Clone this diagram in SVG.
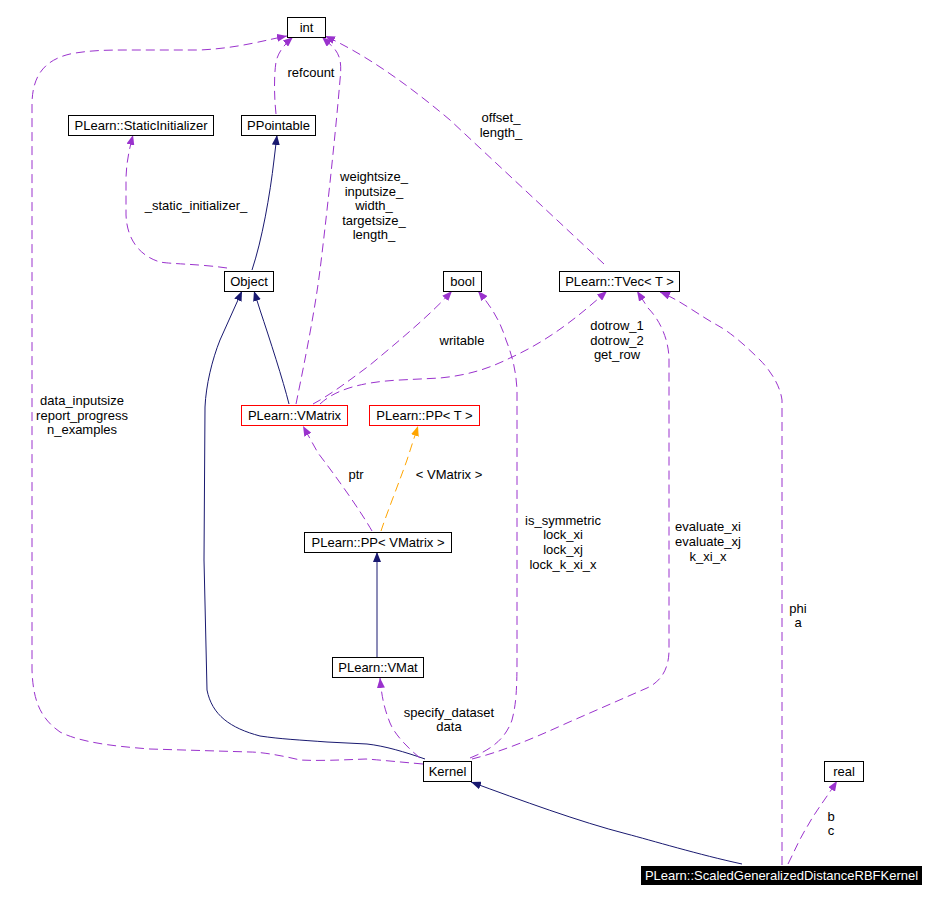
<svg xmlns="http://www.w3.org/2000/svg" width="928" height="902" viewBox="0 0 928 902">
<style>
text{font-family:"Liberation Sans",Arial,sans-serif;font-size:13px;fill:#000;text-anchor:middle}
.n rect{fill:#fff;stroke:#000;stroke-width:1}
.n rect.red{stroke:#ff0000}
.e path{fill:none;stroke-width:1}
.u{stroke:#9a32cd;stroke-dasharray:9,5}
.t{stroke:#ffa500;stroke-dasharray:9,5}
.i{stroke:#191970}
</style>
<defs>
<marker id="ap" viewBox="0 0 10 8" refX="10" refY="4" markerWidth="10" markerHeight="8" markerUnits="userSpaceOnUse" orient="auto"><path d="M0,0 L10,4 L0,8 z" fill="#9a32cd"/></marker>
<marker id="ao" viewBox="0 0 10 8" refX="10" refY="4" markerWidth="10" markerHeight="8" markerUnits="userSpaceOnUse" orient="auto"><path d="M0,0 L10,4 L0,8 z" fill="#ffa500"/></marker>
<marker id="an" viewBox="0 0 10 8" refX="10" refY="4" markerWidth="10" markerHeight="8" markerUnits="userSpaceOnUse" orient="auto"><path d="M0,0 L10,4 L0,8 z" fill="#191970"/></marker>
</defs>
<rect width="928" height="902" fill="#fff"/>
<g id="edges" class="e">
<path class="u" marker-end="url(#ap)" d="M423,764 C400,762 380,760 366,759 C340,760 320,761 300,760 C280,755 260,752 250,752 L150,749 C110,746 80,742 60,732 C40,718 33,700 32,670 L32,105 C32,75 45,60 70,54 C90,50 110,50 130,50 L200,50 C240,48 265,40 287,36"/>
<path class="u" marker-end="url(#ap)" d="M227,268 C200,264 170,264 160,262 C140,256 127,240 126,215 L126,180 C126,165 129,150 133,135"/>
<path class="u" marker-end="url(#ap)" d="M276,114 C274,95 274,75 276,62 C278,52 285,44 293,37"/>
<path class="i" marker-end="url(#an)" d="M252,270 C262,240 270,195 274,160 L277,135"/>
<path class="u" marker-end="url(#ap)" d="M296,404 C305,360 315,310 320,270 C325,230 335,140 340,80 C342,62 340,55 333,47 L322,37"/>
<path class="u" marker-end="url(#ap)" d="M604,264 L450,120 C400,78 360,52 325,36"/>
<path class="i" marker-end="url(#an)" d="M289,404 C283,380 270,340 260,310 L254,291"/>
<path class="i" marker-end="url(#an)" d="M425,759 C405,752 385,746 367,744 L327,742 C300,740 280,739 260,736 C230,728 212,715 207,690 L204,560 L205,407 C206,385 212,360 220,340 L242,291"/>
<path class="u" marker-end="url(#ap)" d="M313,404 C330,395 350,380 370,365 C400,340 430,315 452,291"/>
<path class="u" marker-end="url(#ap)" d="M320,404 C335,390 360,382 400,380 L440,378 C470,375 490,368 510,358 C550,340 580,315 607,291"/>
<path class="u" marker-end="url(#ap)" d="M372,531 C360,510 335,475 318,453 L303,426"/>
<path class="t" marker-end="url(#ao)" d="M381,531 C388,510 400,480 407,460 L418,426"/>
<path class="i" marker-end="url(#an)" d="M377,657 L377,552"/>
<path class="u" marker-end="url(#ap)" d="M420,758 C408,748 395,735 390,723 C385,710 382,700 380,678"/>
<path class="u" marker-end="url(#ap)" d="M470,758 C490,750 505,740 512,720 C516,705 517,690 517,660 L517,390 C516,370 512,355 506,340 C500,320 490,305 478,291"/>
<path class="u" marker-end="url(#ap)" d="M472,759 C500,752 530,740 567,723 L647,688 C660,682 669,670 669,650 L669,360 C669,340 660,320 648,308 L637,291"/>
<path class="u" marker-end="url(#ap)" d="M782,865 L782,400 C780,385 770,370 760,360 C745,345 730,332 717,325 C700,316 680,300 660,292"/>
<path class="i" marker-end="url(#an)" d="M742,864 C700,855 650,840 627,834 C580,822 520,800 471,782"/>
<path class="u" marker-end="url(#ap)" d="M788,864 C795,850 800,838 807,827 C815,812 825,800 837,781"/>
<text x="311" y="77">refcount</text>
<text x="196" y="210">_static_initializer_</text>
<text x="501" y="122">offset_</text>
<text x="501" y="137">length_</text>
<text x="374" y="181">weightsize_</text>
<text x="374" y="196">inputsize_</text>
<text x="374" y="210">width_</text>
<text x="374" y="225">targetsize_</text>
<text x="374" y="239">length_</text>
<text x="462" y="345">writable</text>
<text x="617" y="330">dotrow_1</text>
<text x="617" y="345">dotrow_2</text>
<text x="617" y="359">get_row</text>
<text x="82" y="405">data_inputsize</text>
<text x="82" y="420">report_progress</text>
<text x="82" y="434">n_examples</text>
<text x="356" y="479">ptr</text>
<text x="449" y="479">&lt; VMatrix &gt;</text>
<text x="563" y="525">is_symmetric</text>
<text x="563" y="539">lock_xi</text>
<text x="563" y="554">lock_xj</text>
<text x="563" y="569">lock_k_xi_x</text>
<text x="708" y="531">evaluate_xi</text>
<text x="708" y="546">evaluate_xj</text>
<text x="708" y="561">k_xi_x</text>
<text x="798" y="613">phi</text>
<text x="798" y="627">a</text>
<text x="449" y="717">specify_dataset</text>
<text x="449" y="731">data</text>
<text x="831" y="821">b</text>
<text x="831" y="835">c</text>
</g>
<g id="int" class="n"><rect x="287.5" y="17.5" width="38" height="20"/><text x="306.5" y="32">int</text></g>
<g id="staticinit" class="n"><rect x="68.5" y="115.5" width="145" height="20"/><text x="141" y="130">PLearn::StaticInitializer</text></g>
<g id="ppointable" class="n"><rect x="241.5" y="115.5" width="74" height="20"/><text x="278.5" y="130">PPointable</text></g>
<g id="object" class="n"><rect x="224.5" y="271.5" width="49" height="20"/><text x="249" y="286">Object</text></g>
<g id="bool" class="n"><rect x="443.5" y="271.5" width="38" height="20"/><text x="462.5" y="286">bool</text></g>
<g id="tvec" class="n"><rect x="559.5" y="271.5" width="120" height="20"/><text x="619.5" y="286">PLearn::TVec&lt; T &gt;</text></g>
<g id="vmatrix" class="n"><rect class="red" x="241.5" y="405.5" width="106" height="20"/><text x="294.5" y="420">PLearn::VMatrix</text></g>
<g id="ppt" class="n"><rect class="red" x="369.5" y="405.5" width="110" height="20"/><text x="424.5" y="420">PLearn::PP&lt; T &gt;</text></g>
<g id="ppvmatrix" class="n"><rect x="304.5" y="532.5" width="147" height="20"/><text x="378" y="547">PLearn::PP&lt; VMatrix &gt;</text></g>
<g id="vmat" class="n"><rect x="332.5" y="657.5" width="91" height="20"/><text x="378" y="672">PLearn::VMat</text></g>
<g id="kernel" class="n"><rect x="423.5" y="761.5" width="48" height="20"/><text x="447.5" y="776">Kernel</text></g>
<g id="real" class="n"><rect x="824.5" y="761.5" width="39" height="20"/><text x="844" y="776">real</text></g>
<g id="sgdrbf"><rect x="641" y="866" width="281" height="19" fill="#000"/><text x="781.5" y="880" style="fill:#fff">PLearn::ScaledGeneralizedDistanceRBFKernel</text></g>
</svg>
